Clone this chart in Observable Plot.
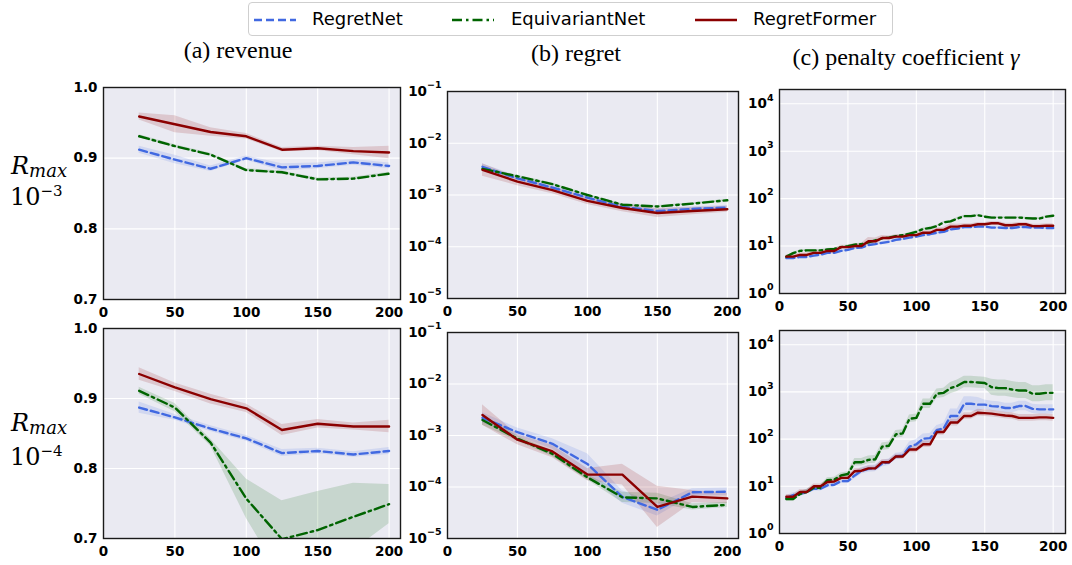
<!DOCTYPE html>
<html>
<head>
<meta charset="utf-8">
<script src="https://cdn.jsdelivr.net/npm/d3@7"></script>
<script src="https://cdn.jsdelivr.net/npm/@observablehq/plot@0.6"></script>
<style>
  html, body { margin: 0; padding: 0; background: #fff; }
  #fig { position: relative; width: 1072px; height: 565px; overflow: hidden; background: #fff; }
  .abs { position: absolute; white-space: nowrap; line-height: 1; }
  .serif { font-family: "Liberation Serif", "DejaVu Serif", serif; color: #000; }
  .math { font-family: "DejaVu Serif", serif; color: #000; }
  .legend { position: absolute; left: 248px; top: 2px; width: 643px; height: 32px; border: 1px solid #cfcfcf; border-radius: 4px; background: #fff; font-family: "DejaVu Sans", sans-serif; font-size: 18px; color: #000; }
  .legend svg { position: absolute; }
</style>
</head>
<body>
<div id="fig"></div>
<script>
// ---------------- data ----------------
const seriesNames = ["RegretNet", "EquivariantNet", "RegretFormer"];
const colTitles = ["(a) revenue", "(b) regret", "(c) penalty coefficient"];
const rowExponents = ["\u22123", "\u22124"];
const epochs = [25, 50, 75, 100, 125, 150, 175, 200];
const gammaEpochs = [5, 10, 15, 20, 25, 30, 35, 40, 45, 50, 55, 60, 65, 70, 75, 80, 85, 90, 95, 100,
  105, 110, 115, 120, 125, 130, 135, 140, 145, 150, 155, 160, 165, 170, 175, 180, 185, 190, 195, 200];
const xTicks = [0, 50, 100, 150, 200];
const revTicks = [0.7, 0.8, 0.9, 1.0];
const regretTicks = [1e-5, 1e-4, 1e-3, 1e-2, 1e-1];
const gammaTicks = [1, 10, 100, 1000, 10000];

// (a) revenue, R_max = 1e-3
const revNet3 = [0.912, 0.898, 0.885, 0.900, 0.887, 0.889, 0.894, 0.889];
const revNet3Sd = [0.005, 0.006, 0.004, 0.003, 0.005, 0.004, 0.004, 0.004];
const revEqv3 = [0.931, 0.917, 0.905, 0.883, 0.880, 0.870, 0.871, 0.878];
const revEqv3Sd = [0.002, 0.002, 0.002, 0.002, 0.002, 0.002, 0.002, 0.002];
const revFmr3 = [0.959, 0.948, 0.937, 0.931, 0.912, 0.914, 0.910, 0.908];
const revFmr3Sd = [0.005, 0.012, 0.006, 0.004, 0.003, 0.003, 0.005, 0.009];
// (a) revenue, R_max = 1e-4
const revNet4 = [0.887, 0.873, 0.857, 0.843, 0.822, 0.825, 0.820, 0.825];
const revNet4Sd = [0.008, 0.004, 0.004, 0.004, 0.005, 0.004, 0.004, 0.005];
const revEqv4 = [0.911, 0.887, 0.837, 0.757, 0.699, 0.712, 0.731, 0.749];
const revEqv4Sd = [0.005, 0.006, 0.005, 0.028, 0.055, 0.055, 0.048, 0.028];
const revFmr4 = [0.935, 0.916, 0.899, 0.886, 0.855, 0.864, 0.860, 0.860];
const revFmr4Sd = [0.009, 0.006, 0.007, 0.006, 0.008, 0.006, 0.005, 0.009];

// (b) regret (band half-width in decades), R_max = 1e-3
const regNet3 = [3.5e-3, 2.1e-3, 1.39e-3, 8.9e-4, 5.9e-4, 4.9e-4, 5.4e-4, 5.7e-4];
const regNet3Sd = [0.06, 0.04, 0.04, 0.05, 0.05, 0.04, 0.04, 0.04];
const regEqv3 = [3.2e-3, 2.3e-3, 1.62e-3, 1.0e-3, 6.5e-4, 6.0e-4, 6.8e-4, 7.9e-4];
const regEqv3Sd = [0.02, 0.02, 0.02, 0.02, 0.02, 0.02, 0.02, 0.02];
const regFmr3 = [3.05e-3, 1.82e-3, 1.24e-3, 7.7e-4, 5.6e-4, 4.5e-4, 4.9e-4, 5.3e-4];
const regFmr3Sd = [0.12, 0.08, 0.07, 0.07, 0.07, 0.09, 0.07, 0.06];
// (b) regret, R_max = 1e-4
const regNet4 = [2.2e-3, 1.16e-3, 6.9e-4, 2.8e-4, 6.4e-5, 3.6e-5, 7.9e-5, 8.1e-5];
const regNet4Sd = [0.1, 0.08, 0.1, 0.2, 0.12, 0.12, 0.07, 0.07];
const regEqv4 = [2.0e-3, 8.7e-4, 4.4e-4, 1.54e-4, 6.3e-5, 6.0e-5, 4.1e-5, 4.5e-5];
const regEqv4Sd = [0.1, 0.05, 0.05, 0.05, 0.1, 0.1, 0.06, 0.05];
const regFmr4 = [2.5e-3, 8.3e-4, 4.9e-4, 1.74e-4, 1.74e-4, 4.1e-5, 6.5e-5, 6.0e-5];
const regFmr4Sd = [0.2, 0.1, 0.12, 0.12, 0.2, 0.4, 0.12, 0.1];

// (c) penalty coefficient gamma (band half-width in decades), R_max = 1e-3
const gamNet3 = [5.6, 5.6, 5.9, 5.9, 6.3, 6.6, 7.2, 7.2, 7.9, 8.3, 9.1, 9.3, 10.5, 11.0, 11.7, 12.3, 13.5, 14.1, 15.1, 15.8,
  17.0, 17.8, 19.1, 20.0, 22.4, 23.4, 25.1, 25.1, 25.7, 25.7, 24.5, 24.5, 24.0, 24.0, 25.1, 25.1, 24.5, 24.5, 24.0, 24.0];
const gamNet3Sd = [0.03, 0.03, 0.03, 0.03, 0.03, 0.03, 0.03, 0.03, 0.03, 0.03, 0.03, 0.03, 0.03, 0.03, 0.03, 0.03, 0.03, 0.03, 0.03, 0.03,
  0.03, 0.03, 0.03, 0.03, 0.03, 0.03, 0.03, 0.03, 0.03, 0.03, 0.03, 0.03, 0.03, 0.03, 0.03, 0.03, 0.03, 0.03, 0.03, 0.03];
const gamEqv3 = [6.0, 7.1, 7.9, 8.1, 8.1, 8.1, 8.5, 8.7, 9.5, 10.0, 10.7, 11.0, 12.0, 13.2, 14.5, 15.1, 16.2, 17.0, 18.2, 20.0,
  22.9, 24.0, 26.3, 31.6, 33.1, 38.0, 42.7, 42.7, 44.7, 41.7, 39.8, 39.8, 39.8, 39.8, 39.8, 38.9, 38.0, 38.0, 41.7, 43.7];
const gamEqv3Sd = [0.02, 0.02, 0.02, 0.02, 0.02, 0.02, 0.02, 0.02, 0.02, 0.02, 0.02, 0.02, 0.02, 0.02, 0.02, 0.02, 0.02, 0.02, 0.02, 0.02,
  0.02, 0.02, 0.02, 0.02, 0.02, 0.02, 0.02, 0.02, 0.02, 0.02, 0.02, 0.02, 0.02, 0.02, 0.02, 0.02, 0.02, 0.02, 0.02, 0.02];
const gamFmr3 = [6.0, 6.0, 6.5, 6.5, 7.2, 7.2, 7.9, 7.9, 9.5, 9.5, 10.0, 10.0, 12.6, 12.6, 14.8, 14.8, 15.8, 15.8, 17.0, 17.0,
  19.1, 19.1, 21.9, 21.9, 25.7, 25.7, 26.9, 26.9, 28.8, 28.8, 30.2, 30.2, 27.5, 27.5, 28.8, 28.8, 26.3, 26.3, 26.9, 26.9];
const gamFmr3Sd = [0.04, 0.04, 0.04, 0.04, 0.04, 0.04, 0.04, 0.04, 0.04, 0.04, 0.05, 0.06, 0.08, 0.07, 0.05, 0.04, 0.04, 0.04, 0.04, 0.04,
  0.04, 0.04, 0.04, 0.05, 0.06, 0.05, 0.04, 0.04, 0.04, 0.04, 0.04, 0.04, 0.04, 0.04, 0.04, 0.04, 0.04, 0.04, 0.04, 0.04];
// (c) penalty coefficient gamma, R_max = 1e-4
const gamNet4 = [5.6, 6.5, 6.9, 7.6, 8.9, 8.9, 10.5, 10.8, 12.9, 12.9, 17.0, 21.4, 23.4, 24.0, 30.2, 32.4, 42.7, 44.7, 69.2, 77.6,
  102, 105, 155, 170, 309, 309, 562, 562, 537, 537, 501, 490, 457, 457, 501, 501, 437, 427, 427, 427];
const gamNet4Sd = [0.05, 0.05, 0.05, 0.05, 0.05, 0.05, 0.05, 0.05, 0.05, 0.05, 0.07, 0.07, 0.07, 0.07, 0.07, 0.07, 0.07, 0.07, 0.1, 0.1,
  0.1, 0.1, 0.1, 0.1, 0.15, 0.15, 0.15, 0.15, 0.15, 0.1, 0.1, 0.1, 0.1, 0.1, 0.1, 0.1, 0.1, 0.1, 0.1, 0.1];
const gamEqv4 = [5.4, 5.4, 6.9, 7.6, 9.3, 9.3, 13.5, 13.8, 17.0, 18.2, 32.4, 32.4, 36.3, 37.2, 69.2, 72.4, 126, 132, 269, 282,
  562, 562, 912, 955, 1202, 1349, 1622, 1622, 1585, 1549, 1259, 1202, 1202, 1122, 1072, 1072, 912, 912, 955, 955];
const gamEqv4Sd = [0.05, 0.05, 0.05, 0.05, 0.05, 0.05, 0.05, 0.05, 0.05, 0.05, 0.08, 0.08, 0.08, 0.08, 0.08, 0.08, 0.08, 0.08, 0.08, 0.08,
  0.1, 0.1, 0.1, 0.1, 0.12, 0.12, 0.12, 0.12, 0.12, 0.12, 0.17, 0.17, 0.17, 0.17, 0.17, 0.17, 0.17, 0.17, 0.17, 0.17];
const gamFmr4 = [6.0, 6.0, 7.6, 7.6, 10.0, 10.0, 12.3, 12.6, 15.1, 15.1, 20.9, 21.4, 24.0, 24.0, 32.4, 32.4, 42.7, 42.7, 60.3, 60.3,
  77.6, 77.6, 141, 141, 224, 224, 309, 309, 363, 355, 347, 331, 316, 309, 282, 282, 282, 288, 288, 282];
const gamFmr4Sd = [0.05, 0.05, 0.05, 0.05, 0.05, 0.05, 0.05, 0.05, 0.05, 0.05, 0.05, 0.05, 0.05, 0.05, 0.05, 0.05, 0.05, 0.05, 0.07, 0.07,
  0.07, 0.07, 0.07, 0.07, 0.07, 0.07, 0.07, 0.07, 0.07, 0.07, 0.07, 0.07, 0.07, 0.07, 0.07, 0.07, 0.07, 0.07, 0.07, 0.07];

// ---------------- styles ----------------
const COLORS = ["#4169E1", "#006400", "#8B0000"];
const DASHES = ["8,4", "10,4,2.5,4", null];
const LW = 2.4;

const fig = document.getElementById("fig");

function supFormat(d) {
  return "10^" + Math.round(Math.log10(d));
}

function panel(frame, cfg) {
  const [x0, y0, x1, y1] = frame;
  const mL = 64, mR = 8, mT = 14, mB = 30;
  const isLog = cfg.yType === "log";
  const marks = [
    Plot.frame({fill: "#EAEAF2", stroke: "none"}),
    Plot.ruleX(xTicks, {stroke: "#ffffff", strokeWidth: 1.1}),
    Plot.ruleY(cfg.yTicks, {stroke: "#ffffff", strokeWidth: 1.1})
  ];
  const areas = [], lines = [];
  cfg.series.forEach((s, k) => {
    const rows = s.y.map((v, i) => ({
      x: cfg.x[i], y: v,
      lo: isLog ? v / Math.pow(10, s.sd[i]) : v - s.sd[i],
      hi: isLog ? v * Math.pow(10, s.sd[i]) : v + s.sd[i]
    }));
    areas.push(Plot.areaY(rows, {x: "x", y1: "lo", y2: "hi", fill: COLORS[k], fillOpacity: 0.15, clip: true}));
    const lo = {x: "x", y: "y", stroke: COLORS[k], strokeWidth: LW, clip: true};
    if (DASHES[k]) lo.strokeDasharray = DASHES[k];
    lines.push(Plot.lineY(rows, lo));
  });
  marks.push(...areas, ...lines, Plot.frame({stroke: "#1a1a1a", strokeWidth: 1.4}));
  const svg = Plot.plot({
    width: x1 - x0 + mL + mR,
    height: y1 - y0 + mT + mB,
    marginLeft: mL, marginRight: mR, marginTop: mT, marginBottom: mB,
    x: {domain: cfg.xDomain, ticks: xTicks, tickSize: 0, tickPadding: 8, label: null, tickFormat: d3.format("d")},
    y: {type: cfg.yType, domain: cfg.yDomain, ticks: cfg.yTicks, tickSize: 0, tickPadding: 6, label: null, tickFormat: cfg.fmt},
    style: {background: "transparent", color: "#000", fontFamily: "'DejaVu Sans', sans-serif", fontSize: "13.5px", fontWeight: "bold", overflow: "visible"},
    marks
  });
  svg.style.position = "absolute";
  svg.style.left = (x0 - mL) + "px";
  svg.style.top = (y0 - mT) + "px";
  svg.querySelectorAll("text").forEach(t => {
    t.style.fontSize = "13.5px";
    t.style.fontWeight = "bold";
    t.style.fontFamily = "'DejaVu Sans', sans-serif";
    const m = /^10\^(-?\d+)$/.exec(t.textContent);
    if (m) {
      t.textContent = "10";
      const ts = document.createElementNS("http://www.w3.org/2000/svg", "tspan");
      ts.setAttribute("dy", "-7.5");
      ts.style.fontSize = "9.5px";
      ts.textContent = m[1].replace("-", "\u2212");
      t.appendChild(ts);
    }
  });
  fig.appendChild(svg);
}

const frames = {
  a3: [103, 87, 400, 299], b3: [447, 91, 738, 298], c3: [779, 89, 1065, 293],
  a4: [103, 328, 400, 538], b4: [447, 332, 738, 538], c4: [779, 330, 1065, 533]
};

panel(frames.a3, {x: epochs, xDomain: [0, 208], yType: "linear", yDomain: [0.7, 1.0], yTicks: revTicks, fmt: d3.format(".1f"),
  series: [{y: revNet3, sd: revNet3Sd}, {y: revEqv3, sd: revEqv3Sd}, {y: revFmr3, sd: revFmr3Sd}]});
panel(frames.b3, {x: epochs, xDomain: [0, 208], yType: "log", yDomain: [1e-5, 1e-1], yTicks: regretTicks, fmt: supFormat,
  series: [{y: regNet3, sd: regNet3Sd}, {y: regEqv3, sd: regEqv3Sd}, {y: regFmr3, sd: regFmr3Sd}]});
panel(frames.c3, {x: gammaEpochs, xDomain: [0, 209], yType: "log", yDomain: [1, 2e4], yTicks: gammaTicks, fmt: supFormat,
  series: [{y: gamNet3, sd: gamNet3Sd}, {y: gamEqv3, sd: gamEqv3Sd}, {y: gamFmr3, sd: gamFmr3Sd}]});
panel(frames.a4, {x: epochs, xDomain: [0, 208], yType: "linear", yDomain: [0.7, 1.0], yTicks: revTicks, fmt: d3.format(".1f"),
  series: [{y: revNet4, sd: revNet4Sd}, {y: revEqv4, sd: revEqv4Sd}, {y: revFmr4, sd: revFmr4Sd}]});
panel(frames.b4, {x: epochs, xDomain: [0, 208], yType: "log", yDomain: [1e-5, 1e-1], yTicks: regretTicks, fmt: supFormat,
  series: [{y: regNet4, sd: regNet4Sd}, {y: regEqv4, sd: regEqv4Sd}, {y: regFmr4, sd: regFmr4Sd}]});
panel(frames.c4, {x: gammaEpochs, xDomain: [0, 209], yType: "log", yDomain: [1, 2e4], yTicks: gammaTicks, fmt: supFormat,
  series: [{y: gamNet4, sd: gamNet4Sd}, {y: gamEqv4, sd: gamEqv4Sd}, {y: gamFmr4, sd: gamFmr4Sd}]});

// ---------------- titles ----------------
function addDiv(html, cls, css) {
  const d = document.createElement("div");
  d.className = "abs " + cls;
  d.innerHTML = html;
  Object.assign(d.style, css);
  fig.appendChild(d);
  return d;
}
const titleCenters = [238, 576, 906];
const titleTops = [38, 41, 45];
colTitles.forEach((t, i) => {
  const html = i === 2 ? t + " <i>\u03b3</i>" : t;
  addDiv(html, "serif", {left: (titleCenters[i] - 200) + "px", width: "400px", textAlign: "center", top: titleTops[i] + "px", fontSize: "24px"});
});

// row labels
const rowTops = [[154, 185], [411, 445]];
rowExponents.forEach((e, r) => {
  addDiv('<i>R</i><span style="position:relative;top:3px;font-size:18px"><i>max</i></span>', "math",
    {left: "11px", top: rowTops[r][0] + "px", fontSize: "24px"});
  addDiv('10<span style="position:relative;top:-9px;font-size:15px">' + e + '</span>', "math",
    {left: "10px", top: rowTops[r][1] + "px", fontSize: "24px"});
});

// ---------------- legend ----------------
const legend = document.createElement("div");
legend.className = "legend";
fig.appendChild(legend);
const swatchX = [5, 203, 446];
const textX = [63, 262, 504];
seriesNames.forEach((name, k) => {
  const ns = "http://www.w3.org/2000/svg";
  const sv = document.createElementNS(ns, "svg");
  sv.setAttribute("width", 42); sv.setAttribute("height", 10);
  sv.style.left = swatchX[k] + "px"; sv.style.top = "12px";
  const ln = document.createElementNS(ns, "line");
  ln.setAttribute("x1", 0); ln.setAttribute("x2", 42); ln.setAttribute("y1", 5); ln.setAttribute("y2", 5);
  ln.setAttribute("stroke", COLORS[k]); ln.setAttribute("stroke-width", 2.6);
  if (DASHES[k]) ln.setAttribute("stroke-dasharray", DASHES[k]);
  sv.appendChild(ln);
  legend.appendChild(sv);
  const tx = document.createElement("div");
  tx.className = "abs";
  tx.textContent = name;
  Object.assign(tx.style, {left: textX[k] + "px", top: "7px"});
  legend.appendChild(tx);
});
</script>
</body>
</html>
